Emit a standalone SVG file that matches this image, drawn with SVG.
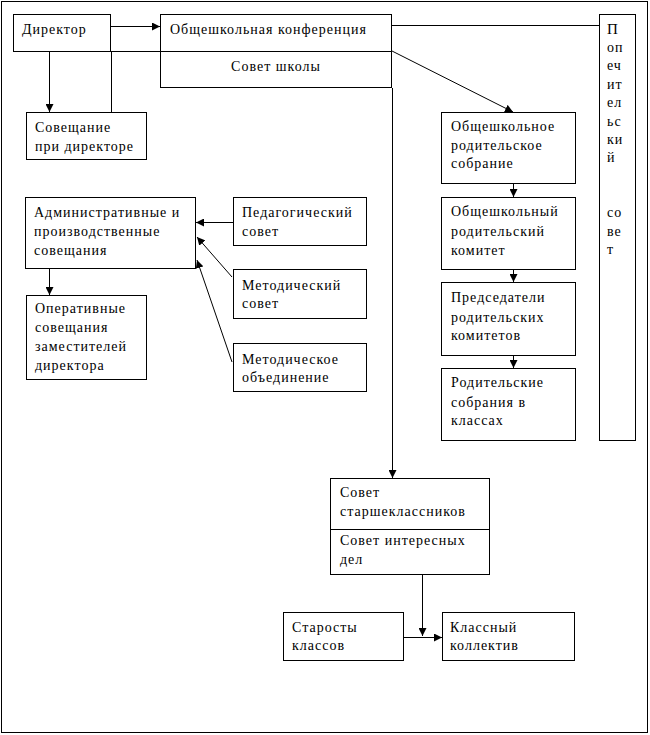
<svg xmlns="http://www.w3.org/2000/svg" width="650" height="735" viewBox="0 0 650 735">
<style>
.b{fill:#fff;stroke:#000;stroke-width:1}
.l{fill:none;stroke:#000;stroke-width:1}
</style>
<defs>
<marker id="a" viewBox="0 0 8 8" refX="8" refY="4" markerWidth="8" markerHeight="8" markerUnits="userSpaceOnUse" orient="auto">
<path d="M0,0 L8,4 L0,8 Z" fill="#000"/>
</marker>
</defs>
<rect x="1.5" y="1.5" width="646" height="731" class="b"/>
<g id="connectors">
<line x1="111" y1="26.5" x2="160" y2="26.5" class="l" marker-end="url(#a)"/>
<line x1="49.5" y1="51" x2="49.5" y2="112" class="l" marker-end="url(#a)"/>
<line x1="111.5" y1="51" x2="111.5" y2="112" class="l"/>
<line x1="111" y1="51.5" x2="160" y2="51.5" class="l"/>
<line x1="392" y1="25.5" x2="599" y2="25.5" class="l"/>
<line x1="392" y1="51" x2="513" y2="112" class="l" marker-end="url(#a)"/>
<line x1="392.5" y1="88" x2="392.5" y2="478" class="l" marker-end="url(#a)"/>
<line x1="49.5" y1="269" x2="49.5" y2="295" class="l" marker-end="url(#a)"/>
<line x1="233" y1="222.5" x2="196" y2="222.5" class="l" marker-end="url(#a)"/>
<line x1="232" y1="277" x2="197" y2="237" class="l" marker-end="url(#a)"/>
<line x1="232" y1="362" x2="197" y2="260" class="l" marker-end="url(#a)"/>
<line x1="513.5" y1="184" x2="513.5" y2="197" class="l" marker-end="url(#a)"/>
<line x1="513.5" y1="270" x2="513.5" y2="282" class="l" marker-end="url(#a)"/>
<line x1="513.5" y1="356" x2="513.5" y2="368" class="l" marker-end="url(#a)"/>
<line x1="422.5" y1="575" x2="422.5" y2="636" class="l" marker-end="url(#a)"/>
<line x1="397" y1="637.5" x2="442" y2="637.5" class="l" marker-end="url(#a)"/>
</g>
<g font-family="Liberation Serif, DejaVu Serif, serif" font-size="14" fill="#000" letter-spacing="1">
<g id="director"><rect x="13.5" y="14.5" width="97" height="37" class="b"/><text x="22" y="34">Директор</text></g>
<g id="conference"><rect x="160.5" y="14.5" width="231" height="73" class="b"/><line x1="160" y1="51.5" x2="392" y2="51.5" class="l"/><text x="170" y="34">Общешкольная конференция</text><text x="276" y="71" text-anchor="middle">Совет школы</text></g>
<g id="soveshchanie"><rect x="26.5" y="112.5" width="120" height="47" class="b"/><text x="35" y="132">Совещание</text><text x="35" y="151">при директоре</text></g>
<g id="popechitelsky"><rect x="599.5" y="14.5" width="36" height="426" class="b"/>
<text x="607" y="34" font-size="15">П</text>
<text x="607" y="52">оп</text><text x="607" y="70">еч</text><text x="607" y="89">ит</text><text x="607" y="107">ел</text><text x="607" y="126">ьс</text><text x="607" y="144">ки</text><text x="607" y="162">й</text>
<text x="607" y="217">со</text><text x="607" y="236">ве</text><text x="607" y="254">т</text></g>
<g id="admin"><rect x="25.5" y="197.5" width="170" height="71" class="b"/><text x="34" y="217">Административные и</text><text x="34" y="236">производственные</text><text x="34" y="255">совещания</text></g>
<g id="operativnye"><rect x="26.5" y="295.5" width="120" height="84" class="b"/><text x="35" y="313">Оперативные</text><text x="35" y="332">совещания</text><text x="35" y="351">заместителей</text><text x="35" y="370">директора</text></g>
<g id="pedsovet"><rect x="233.5" y="197.5" width="133" height="48" class="b"/><text x="242" y="217">Педагогический</text><text x="242" y="236">совет</text></g>
<g id="metodsovet"><rect x="233.5" y="269.5" width="133" height="49" class="b"/><text x="242" y="290">Методический</text><text x="242" y="308">совет</text></g>
<g id="metodob"><rect x="233.5" y="343.5" width="133" height="48" class="b"/><text x="242" y="364">Методическое</text><text x="242" y="382">объединение</text></g>
<g id="rodsobranie"><rect x="441.5" y="112.5" width="134" height="71" class="b"/><text x="451" y="131">Общешкольное</text><text x="451" y="150">родительское</text><text x="451" y="168">собрание</text></g>
<g id="rodkomitet"><rect x="441.5" y="197.5" width="134" height="72" class="b"/><text x="451" y="216">Общешкольный</text><text x="451" y="236">родительский</text><text x="451" y="255">комитет</text></g>
<g id="predsedateli"><rect x="441.5" y="282.5" width="134" height="73" class="b"/><text x="451" y="302">Председатели</text><text x="451" y="322">родительских</text><text x="451" y="340">комитетов</text></g>
<g id="rodklass"><rect x="441.5" y="368.5" width="134" height="72" class="b"/><text x="451" y="387">Родительские</text><text x="451" y="407">собрания в</text><text x="451" y="425">классах</text></g>
<g id="starsheklassniki"><rect x="330.5" y="478.5" width="159" height="96" class="b"/><line x1="330" y1="529.5" x2="490" y2="529.5" class="l"/><text x="340" y="497">Совет</text><text x="340" y="516">старшеклассников</text><text x="340" y="545">Совет интересных</text><text x="340" y="564">дел</text></g>
<g id="starosty"><rect x="283.5" y="612.5" width="120" height="48" class="b"/><text x="292" y="632">Старосты</text><text x="292" y="650">классов</text></g>
<g id="klass"><rect x="442.5" y="612.5" width="132" height="48" class="b"/><text x="450" y="632">Классный</text><text x="450" y="650">коллектив</text></g>
</g>
</svg>
